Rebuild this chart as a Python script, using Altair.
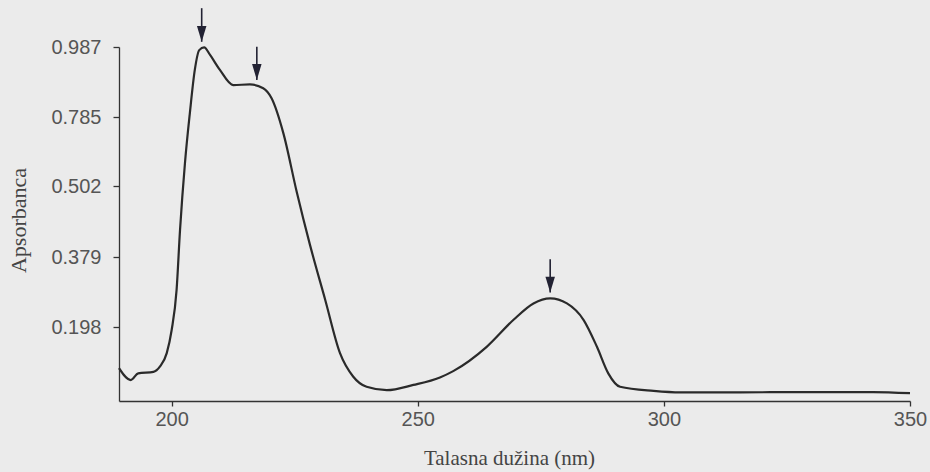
import altair as alt
import pandas as pd

# Spectrum (wavelength in nm, absorbance)
wavelength = [189.3, 191.7, 193.2, 196.3, 197.6, 199.0, 200.0, 201.0, 201.7, 202.7,
              203.7, 204.7, 205.6, 206.6, 207.8, 209.8, 212.5, 215.9, 218.6, 220.3,
              222.7, 225.4, 228.1, 231.2, 234.2, 236.9, 239.6, 243.7, 249.1, 254.5,
              257.2, 264.0, 269.4, 273.5, 276.9, 280.3, 283.7, 286.4, 288.7, 291.1,
              297.9, 303.3, 315.5, 327.7, 342.5, 350.0]
absorbance = [0.088, 0.056, 0.074, 0.078, 0.092, 0.128, 0.190, 0.294, 0.426, 0.596,
              0.797, 0.921, 0.978, 0.986, 0.964, 0.921, 0.877, 0.879, 0.868, 0.839,
              0.718, 0.492, 0.400, 0.268, 0.128, 0.065, 0.038, 0.029, 0.043, 0.063,
              0.080, 0.145, 0.216, 0.259, 0.272, 0.259, 0.216, 0.145, 0.074, 0.038,
              0.027, 0.023, 0.023, 0.024, 0.024, 0.021]

# Peak markers (arrows)
arrow_nm = [206.1, 217.3, 276.9]
arrow_top = [1.099, 0.988, 0.373]
arrow_tip = [1.002, 0.892, 0.287]

# Axis ticks as printed
y_ticks = [0.198, 0.379, 0.502, 0.785, 0.987]
x_ticks = [200, 250, 300, 350]

spec_df = pd.DataFrame({"nm": wavelength, "abs": absorbance})
arrow_df = pd.DataFrame({"nm": arrow_nm, "top": arrow_top, "tip": arrow_tip})

W, H = 791, 354

x_scale = alt.Scale(domain=[189.3, 350], nice=False, zero=False)
# Printed tick labels are evenly spaced on the page: piecewise-linear scale
y_scale = alt.Scale(domain=[0] + y_ticks, range=[354, 280, 210, 139, 70, 0],
                    nice=False, zero=False)

x_axis = alt.Axis(values=x_ticks, title="Talasna dužina (nm)", grid=False,
                  tickSize=5, labelPadding=3, labelFlush=False, labelOverlap=False,
                  labelFont="Liberation Sans", labelFontSize=20, labelColor="#555555",
                  domainColor="#333333", tickColor="#333333", domainWidth=1.3, tickWidth=1.3,
                  titleFont="Liberation Serif", titleFontSize=21, titleFontWeight="normal",
                  titleColor="#444444", titleX=390, titleY=63, titleBaseline="alphabetic",
                  titleAlign="center")
y_axis = alt.Axis(values=y_ticks, format=".3f", title="Apsorbanca", grid=False,
                  tickSize=6, labelPadding=12, labelFlush=False, labelOverlap=False,
                  labelFont="Liberation Sans", labelFontSize=20, labelColor="#555555",
                  domainColor="#333333", tickColor="#333333", domainWidth=1.3, tickWidth=1.3,
                  titleFont="Liberation Serif", titleFontSize=22, titleFontWeight="normal",
                  titleColor="#444444", titleX=-101, titleY=173, titleAngle=-90,
                  titleBaseline="middle", titleAlign="center")

line = alt.Chart(spec_df).mark_line(color="#2a2a2a", strokeWidth=2.2, interpolate="monotone").encode(
    x=alt.X("nm:Q", scale=x_scale, axis=x_axis),
    y=alt.Y("abs:Q", scale=y_scale, axis=y_axis),
)

shaft = alt.Chart(arrow_df).mark_rule(color="#222233", strokeWidth=1.6).encode(
    x=alt.X("nm:Q", scale=x_scale),
    y=alt.Y("top:Q", scale=y_scale),
    y2="tip:Q",
)

head = alt.Chart(arrow_df).mark_point(
    shape="M-0.3,-1L0.3,-1L0,0Z", size=1000, filled=True, color="#222233", opacity=1
).encode(
    x=alt.X("nm:Q", scale=x_scale),
    y=alt.Y("tip:Q", scale=y_scale),
)

chart = alt.layer(line, shaft, head).properties(
    width=W, height=H,
    autosize=alt.AutoSizeParams(type="none"),
    padding={"left": 119, "top": 47, "right": 20, "bottom": 71},
    background="#ebebeb",
).configure_view(stroke=None)

chart.save("out.html", embed_options={"renderer": "svg", "actions": False})
